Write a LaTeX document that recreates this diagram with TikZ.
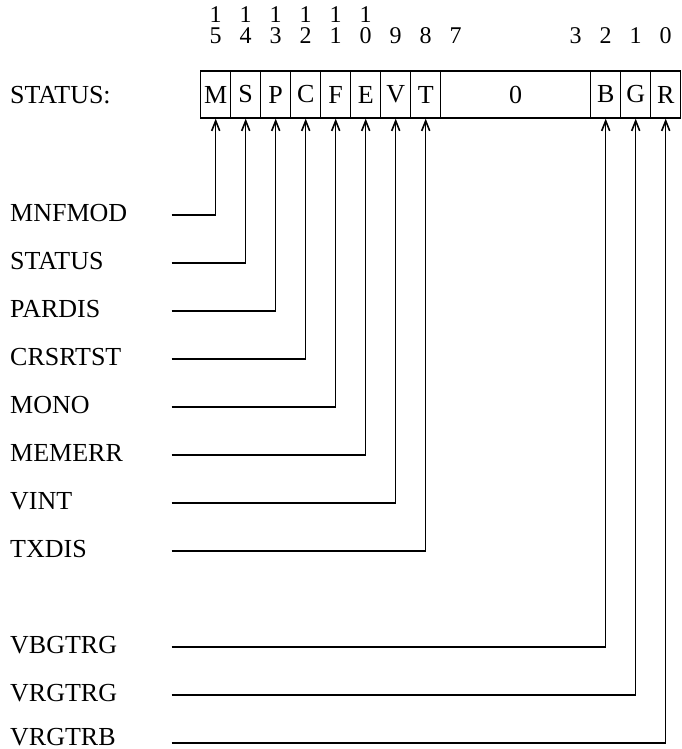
\documentclass[tikz,border=0pt]{standalone}
\usepackage{fontspec}
\setmainfont{Liberation Serif}
\usetikzlibrary{arrows.meta}

\tikzset{
  cell/.style={draw, line width=1.4pt, minimum width=30pt, minimum height=47pt,
    inner sep=0pt, font=\fontsize{26}{26}\selectfont},
  bitno/.style={anchor=base, inner sep=0pt, font=\fontsize{24}{24}\selectfont},
  lbl/.style={anchor=base west, inner sep=0pt, font=\fontsize{26}{26}\selectfont},
  feed/.style={line width=1.2pt, -{Straight Barb[length=10pt,width=8pt,line width=1.6pt]}},
}

\begin{document}
\begin{tikzpicture}[x=1pt,y=-1pt]
  \useasboundingbox (0,0) rectangle (681,749);

  %Register
  \node[lbl] (reg) at (10,104) {STATUS:};
  \node[cell] (b15) at (215.7,94.5) {M};
  \node[cell] (b14) at (245.7,94.5) {S};
  \node[cell] (b13) at (275.7,94.5) {P};
  \node[cell] (b12) at (305.7,94.5) {C};
  \node[cell] (b11) at (335.7,94.5) {F};
  \node[cell] (b10) at (365.7,94.5) {E};
  \node[cell] (b9) at (395.7,94.5) {V};
  \node[cell] (b8) at (425.7,94.5) {T};
  \node[cell, minimum width=150pt] (zero) at (515.7,94.5) {0};
  \node[cell] (b2) at (605.7,94.5) {B};
  \node[cell] (b1) at (635.7,94.5) {G};
  \node[cell] (b0) at (665.7,94.5) {R};

  %Bit numbers (tens digit above units digit)
  \node[bitno] (t15) at (215.7,23) {1};
  \node[bitno] (t14) at (245.7,23) {1};
  \node[bitno] (t13) at (275.7,23) {1};
  \node[bitno] (t12) at (305.7,23) {1};
  \node[bitno] (t11) at (335.7,23) {1};
  \node[bitno] (t10) at (365.7,23) {1};
  \node[bitno] (n15) at (215.7,44) {5};
  \node[bitno] (n14) at (245.7,44) {4};
  \node[bitno] (n13) at (275.7,44) {3};
  \node[bitno] (n12) at (305.7,44) {2};
  \node[bitno] (n11) at (335.7,44) {1};
  \node[bitno] (n10) at (365.7,44) {0};
  \node[bitno] (n9) at (395.7,44) {9};
  \node[bitno] (n8) at (425.7,44) {8};
  \node[bitno] (n7) at (455.7,44) {7};
  \node[bitno] (n3) at (575.7,44) {3};
  \node[bitno] (n2) at (605.7,44) {2};
  \node[bitno] (n1) at (635.7,44) {1};
  \node[bitno] (n0) at (665.7,44) {0};

  %Signal names
  \node[lbl] (mnfmod) at (10,221) {MNFMOD};
  \node[lbl] (status) at (10,269) {STATUS};
  \node[lbl] (pardis) at (10,317) {PARDIS};
  \node[lbl] (crsrtst) at (10,365) {CRSRTST};
  \node[lbl] (mono) at (10,413) {MONO};
  \node[lbl] (memerr) at (10,461) {MEMERR};
  \node[lbl] (vint) at (10,509) {VINT};
  \node[lbl] (txdis) at (10,557) {TXDIS};
  \node[lbl] (vbgtrg) at (10,653) {VBGTRG};
  \node[lbl] (vrgtrg) at (10,701) {VRGTRG};
  \node[lbl] (vrgtrb) at (10,745) {VRGTRB};

  \coordinate (c15) at (171.7,215);
  \coordinate (c14) at (171.7,263);
  \coordinate (c13) at (171.7,311);
  \coordinate (c12) at (171.7,359);
  \coordinate (c11) at (171.7,407);
  \coordinate (c10) at (171.7,455);
  \coordinate (c9) at (171.7,503);
  \coordinate (c8) at (171.7,551);
  \coordinate (c2) at (171.7,647);
  \coordinate (c1) at (171.7,695);
  \coordinate (c0) at (171.7,743);

  %Feed lines
  \draw[feed] (c15) -| (b15.south);
  \draw[feed] (c14) -| (b14.south);
  \draw[feed] (c13) -| (b13.south);
  \draw[feed] (c12) -| (b12.south);
  \draw[feed] (c11) -| (b11.south);
  \draw[feed] (c10) -| (b10.south);
  \draw[feed] (c9) -| (b9.south);
  \draw[feed] (c8) -| (b8.south);
  \draw[feed] (c2) -| (b2.south);
  \draw[feed] (c1) -| (b1.south);
  \draw[feed] (c0) -| (b0.south);
\end{tikzpicture}
\end{document}
